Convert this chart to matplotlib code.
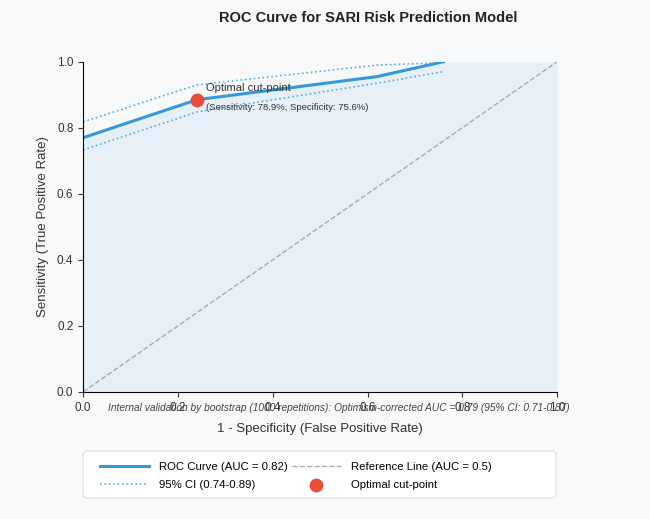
import matplotlib.pyplot as plt
from matplotlib.patches import FancyBboxPatch

plt.rcParams['font.family'] = ['Liberation Sans', 'DejaVu Sans']

# ROC data
fpr = [0.0, 0.24, 0.62, 0.76]
tpr = [0.77, 0.885, 0.955, 1.0]
ci_upper = [0.818, 0.93, 0.99, 0.997]
ci_lower = [0.733, 0.848, 0.935, 0.97]
fill_x = [0.0, 0.24, 0.62, 0.76, 1.0]
fill_y = [0.77, 0.885, 0.955, 1.0, 1.0]
cut_fpr, cut_tpr = 0.24, 0.885
ticks = [0.0, 0.2, 0.4, 0.6, 0.8, 1.0]

fig = plt.figure(figsize=(6.5, 5.19), dpi=100, facecolor='#f8f9fa')
ax = fig.add_axes([0.128, 0.245, 0.729, 0.636])
ax.set_facecolor('#f8f9fa')

ax.fill_between(fill_x, fill_y, color='#3498db', alpha=0.085, linewidth=0)
ax.plot(fpr, tpr, color='#3498db', lw=2.2, label='ROC Curve (AUC = 0.82)')
ax.plot(fpr, ci_upper, color='#3498db', lw=1.2, ls=':', alpha=0.8,
        label='95% CI (0.74-0.89)')
ax.plot(fpr, ci_lower, color='#3498db', lw=1.2, ls=':', alpha=0.8)
ax.plot([0, 1], [0, 1], color='#999999', lw=1.0, ls='--', alpha=0.8,
        label='Reference Line (AUC = 0.5)')
ax.scatter([cut_fpr], [cut_tpr], s=80, color='#e74c3c', zorder=5,
           label='Optimal cut-point')

ax.text(cut_fpr + 0.02, cut_tpr + 0.025, 'Optimal cut-point', fontsize=8,
        color='#333333')
ax.text(cut_fpr + 0.02, cut_tpr - 0.03,
        '(Sensitivity: 78.9%, Specificity: 75.6%)', fontsize=6.8, color='#333333')

ax.set_xlim(0, 1)
ax.set_ylim(0, 1)
ax.set_xticks(ticks)
ax.set_yticks(ticks)
ax.tick_params(labelsize=8.5, colors='#333333')
for s in ['top', 'right']:
    ax.spines[s].set_visible(False)
ax.set_xlabel('1 - Specificity (False Positive Rate)', fontsize=9.5,
              color='#333333', labelpad=7)
ax.set_ylabel('Sensitivity (True Positive Rate)', fontsize=9.5, color='#333333',
              labelpad=6)

ax.text(0.54, -0.048, 'Internal validation by bootstrap (1000 repetitions): '
        'Optimism-corrected AUC = 0.79 (95% CI: 0.71-0.87)',
        transform=ax.transAxes, ha='center', va='center', fontsize=7.3,
        style='italic', color='#444444')

fig.text(368 / 650, 1 - 18 / 519, 'ROC Curve for SARI Risk Prediction Model',
         ha='center', va='center', fontsize=10.5, fontweight='bold', color='#222222')

# legend frame drawn separately so it can be wider than the entries
frame = FancyBboxPatch((83 / 650, 1 - 498 / 519), 473 / 650, 47 / 519,
                       boxstyle='round,pad=0,rounding_size=0.008',
                       transform=fig.transFigure, facecolor='white',
                       edgecolor='#dddddd', lw=0.8, clip_on=False, zorder=4)
ax.add_patch(frame)

leg = ax.legend(loc='upper left', bbox_to_anchor=(0.036, -0.212), ncol=2,
                fontsize=8.2, frameon=False, borderpad=0, borderaxespad=0,
                handlelength=4.3, handletextpad=0.9, columnspacing=0.3,
                labelspacing=0.75)
leg.set_zorder(6)

fig.savefig('out.png', dpi=100, facecolor=fig.get_facecolor())
